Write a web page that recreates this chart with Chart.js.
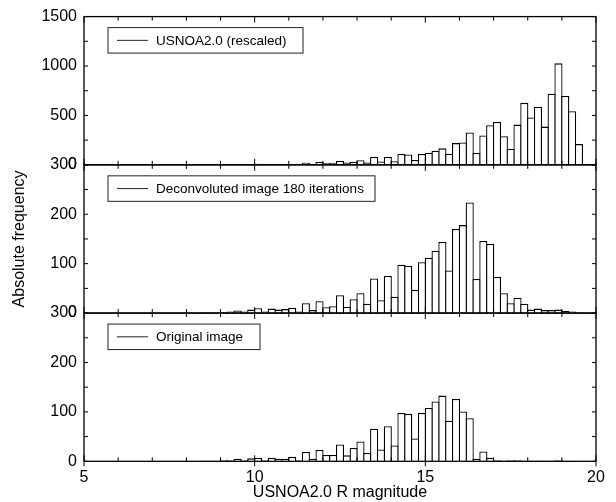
<!DOCTYPE html>
<html>
<head>
<meta charset="utf-8">
<script src="https://cdn.jsdelivr.net/npm/chart.js@4.4.1/dist/chart.umd.min.js"></script>
<style>
  html, body { margin: 0; padding: 0; background: #fff; }
  #wrap { width: 616px; height: 502px; }
</style>
</head>
<body>
<div id="wrap"><canvas id="histChart"></canvas></div>
<script>
// centres of the 0.2 mag bins
const magBins = [
  8.1, 8.3, 8.5, 8.7, 8.9, 9.1, 9.3, 9.5, 9.7, 9.9,
  10.1, 10.3, 10.5, 10.7, 10.9, 11.1, 11.3, 11.5, 11.7, 11.9,
  12.1, 12.3, 12.5, 12.7, 12.9, 13.1, 13.3, 13.5, 13.7, 13.9,
  14.1, 14.3, 14.5, 14.7, 14.9, 15.1, 15.3, 15.5, 15.7, 15.9,
  16.1, 16.3, 16.5, 16.7, 16.9, 17.1, 17.3, 17.5, 17.7, 17.9,
  18.1, 18.3, 18.5, 18.7, 18.9, 19.1, 19.3, 19.5
];

const usnoCounts = [
  3, 2, 3, 2, 3, 2, 4, 3, 5, 4,
  10, 6, 8, 5, 8, 6, 10, 20, 10, 30,
  17, 20, 40, 23, 30, 47, 23, 80, 33, 80,
  37, 110, 105, 50, 110, 123, 143, 167, 113, 220,
  227, 327, 120, 297, 400, 433, 290, 163, 407, 627,
  480, 587, 387, 720, 1027, 697, 543, 210
];

const deconvCounts = [
  0, 0, 1, 1, 1, 2, 3, 5, 3, 7,
  10, 3, 9, 7, 8, 11, 3, 20, 6, 24,
  12, 14, 36, 13, 28, 40, 19, 70, 26, 75,
  33, 98, 96, 47, 103, 112, 126, 144, 86, 170,
  178, 224, 69, 146, 140, 73, 40, 20, 31, 19,
  7, 9, 6, 6, 7, 4, 3, 1
];

const originalCounts = [
  0, 0, 1, 1, 1, 2, 2, 5, 2, 6,
  7, 2, 7, 5, 5, 9, 2, 19, 5, 23,
  13, 13, 34, 12, 27, 40, 17, 66, 24, 71,
  32, 98, 96, 46, 98, 108, 121, 133, 82, 126,
  101, 87, 5, 20, 7, 2, 1, 2, 2, 1,
  1, 1, 1, 1, 2, 1, 0, 0
];

const seriesLabels = ['USNOA2.0 (rescaled)', 'Deconvoluted image 180 iterations', 'Original image'];
const xTicks = [5, 10, 15, 20];
const xMinorTicks = [5, 6, 7, 8, 9, 10, 11, 12, 13, 14, 15, 16, 17, 18, 19, 20];
const topTicks = [0, 500, 1000, 1500];
const midTicks = [0, 100, 200, 300];
const botTicks = [0, 100, 200, 300];

const panelIds = ['yTop', 'yMid', 'yBot'];
const legendWidths = [195, 267, 152];

Chart.defaults.font.family = '"Liberation Sans", Arial, Helvetica, sans-serif';
Chart.defaults.color = '#000';

function barSet(label, counts, axisId) {
  return {
    label: label,
    data: magBins.map((m, i) => ({ x: m, y: counts[i] })),
    yAxisID: axisId,
    xAxisID: 'x',
    backgroundColor: '#fff',
    borderColor: '#000',
    borderWidth: 1.3,
    borderSkipped: 'start',
    grouped: false,
    categoryPercentage: 1,
    barPercentage: 1.19
  };
}

function panelAxis(tickList, weight, extra) {
  const axis = {
    type: 'linear',
    position: 'left',
    stack: 'panels',
    stackWeight: 1,
    weight: weight,
    min: tickList[0],
    max: tickList[tickList.length - 1],
    grid: { display: false, drawTicks: false },
    border: { display: false },
    afterBuildTicks: (s) => { s.ticks = tickList.map(v => ({ value: v })); },
    afterFit: (s) => { s.width = 84; },
    ticks: {
      padding: 7,
      font: { size: 16 },
      color: '#000',
      callback: (v) => String(v)
    }
  };
  return Object.assign(axis, extra || {});
}

// frames, inward tick marks and the little legend box of each panel
const panelFrames = {
  id: 'panelFrames',
  afterDatasetsDraw(chart) {
    const ctx = chart.ctx;
    const area = chart.chartArea;
    const xs = chart.scales.x;
    ctx.save();
    ctx.strokeStyle = '#000';

    panelIds.forEach((id, k) => {
      const ys = chart.scales[id];
      const top = ys.top;
      const bottom = ys.bottom;

      ctx.lineWidth = 1.3;
      ctx.strokeRect(area.left, top, area.right - area.left, bottom - top);

      ctx.lineWidth = 1;
      ctx.beginPath();
      // y ticks, major and the halfway minor ones
      const vals = ys.ticks.map(t => t.value);
      const all = [];
      vals.forEach((v, i) => {
        all.push(v);
        if (i < vals.length - 1) all.push((v + vals[i + 1]) / 2);
      });
      all.forEach(v => {
        const y = ys.getPixelForValue(v);
        ctx.moveTo(area.left, y); ctx.lineTo(area.left + 4, y);
        ctx.moveTo(area.right, y); ctx.lineTo(area.right - 4, y);
      });
      // x ticks on top and bottom edge
      xMinorTicks.forEach(v => {
        const x = xs.getPixelForValue(v);
        const len = xTicks.includes(v) ? 6 : 4;
        ctx.moveTo(x, top); ctx.lineTo(x, top + len);
        ctx.moveTo(x, bottom); ctx.lineTo(x, bottom - len);
        if (k === panelIds.length - 1 && xTicks.includes(v)) {
          ctx.moveTo(x, bottom); ctx.lineTo(x, bottom + 5);
        }
      });
      ctx.stroke();

      // legend box
      const lx = area.left + 24;
      const ly = top + 11;
      const lh = 25.5;
      ctx.strokeStyle = '#222';
      ctx.lineWidth = 1;
      ctx.strokeRect(lx, ly, legendWidths[k], lh);
      ctx.beginPath();
      ctx.moveTo(lx + 9, ly + lh / 2);
      ctx.lineTo(lx + 40, ly + lh / 2);
      ctx.stroke();
      ctx.fillStyle = '#000';
      ctx.font = '13.5px "Liberation Sans", Arial, Helvetica, sans-serif';
      ctx.textAlign = 'left';
      ctx.textBaseline = 'middle';
      ctx.fillText(chart.data.datasets[k].label, lx + 48, ly + lh / 2 + 0.5);
      ctx.strokeStyle = '#000';
    });

    ctx.restore();
  }
};

new Chart(document.getElementById('histChart'), {
  type: 'bar',
  data: {
    datasets: [
      barSet(seriesLabels[0], usnoCounts, 'yTop'),
      barSet(seriesLabels[1], deconvCounts, 'yMid'),
      barSet(seriesLabels[2], originalCounts, 'yBot')
    ]
  },
  options: {
    responsive: true,
    maintainAspectRatio: false,
    animation: false,
    layout: { padding: { left: 0, right: 20, top: 12, bottom: 0 } },
    plugins: {
      legend: { display: false },
      tooltip: { enabled: false }
    },
    scales: {
      x: {
        type: 'linear',
        position: 'bottom',
        min: 5,
        max: 20,
        offset: false,
        grid: { display: false, drawTicks: false, offset: false },
        border: { display: false },
        afterBuildTicks: (s) => { s.ticks = xTicks.map(v => ({ value: v })); },
        afterFit: (s) => { s.height = 40.7; },
        ticks: {
          padding: 7,
          font: { size: 16 },
          color: '#000',
          maxRotation: 0,
          callback: (v) => String(v)
        },
        title: {
          display: true,
          text: 'USNOA2.0 R magnitude',
          font: { size: 16 },
          color: '#000',
          padding: { top: 0, bottom: 0 }
        }
      },
      yTop: panelAxis(topTicks, 3),
      yMid: panelAxis(midTicks, 2, {
        title: {
          display: true,
          text: 'Absolute frequency',
          font: { size: 16 },
          color: '#000',
          padding: { top: 10, bottom: 0 }
        }
      }),
      yBot: panelAxis(botTicks, 1)
    }
  },
  plugins: [panelFrames]
});
</script>
</body>
</html>
